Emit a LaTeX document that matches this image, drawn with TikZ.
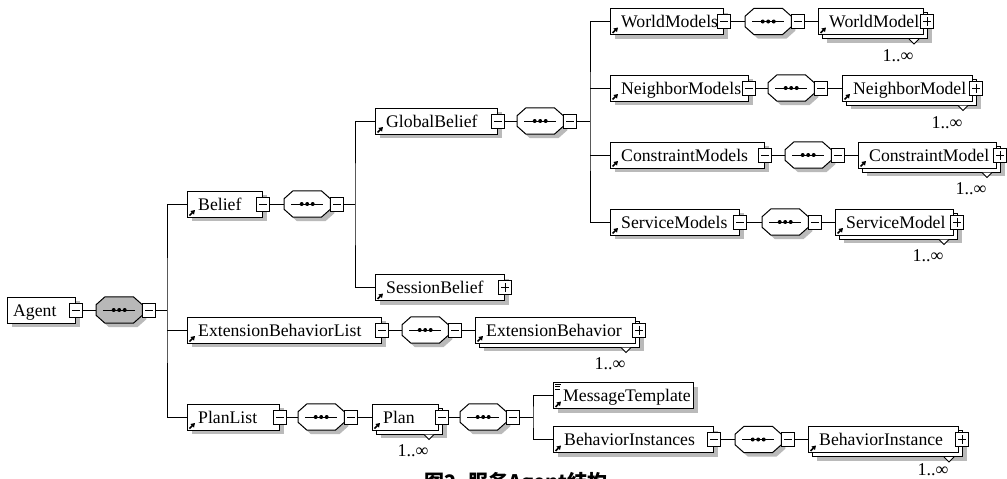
\documentclass[tikz,border=0pt]{standalone}
\usepackage{fontspec}
\setmainfont{Liberation Serif}
\newfontfamily\cjk{Noto Sans CJK SC}
\usetikzlibrary{shadows,arrows.meta}
\newcommand\elfont{\fontsize{17.7}{19}\selectfont}
\tikzset{
  shade4/.style={drop shadow={shadow xshift=4pt,shadow yshift=-4pt,fill=black!27,opacity=1}},
  boxline/.style={draw=black,line width=1pt},
  boxbase/.style={draw=black,fill=white,line width=1pt,inner sep=0pt,minimum height=26pt,rectangle},
  elembox/.style={boxbase,shade4},
  elemtext/.style={inner sep=0pt,anchor=base west,font=\elfont},
  pmbox/.style={draw=black,fill=white,line width=0.9pt,inner sep=0pt,minimum width=12.5pt,minimum height=14pt},
  minusb/.style={pmbox,path picture={\draw[line width=0.9pt] ([xshift=2.5pt]path picture bounding box.west) -- ([xshift=-2.5pt]path picture bounding box.east);}},
  plusb/.style={pmbox,path picture={\draw[line width=0.9pt] ([xshift=2.5pt]path picture bounding box.west) -- ([xshift=-2.5pt]path picture bounding box.east) ([yshift=-2.5pt]path picture bounding box.north) -- ([yshift=2.5pt]path picture bounding box.south);}},
  compo/.style={draw=black,line width=1pt,shade4},
  conn/.style={draw=black,line width=1pt},
  refarrow/.style={line width=1.6pt,-{Triangle[length=4pt,width=4.8pt]}},
  mult/.style={inner sep=0pt,font=\fontsize{18}{20}\selectfont},
}
% element: name, left, cy, width, text
\newcommand\XSDelem[5]{%
  \node[elembox,minimum width=#4pt,anchor=west] (#1) at (#2,#3) {};
  \node[elemtext] (#1t) at ([xshift=11pt,yshift=-6pt]#1.west) {#5};
}
% stacked element (1..unbounded): name, left, cy, width, text, label drop
\newcommand\XSDselem[6]{%
  \node[elembox,minimum width=#4pt,anchor=west] (#1b) at ({#2+4},{#3+4}) {};
  \draw[boxline,fill=white] ([xshift=-19pt]#1b.south east) -- ++(5,5) -- ++(5,-5);
  \node[boxbase,minimum width=#4pt,anchor=west] (#1) at (#2,#3) {};
  \node[elemtext] (#1t) at ([xshift=11pt,yshift=-6pt]#1.west) {#5};
  \node[mult] (#1n) at ([xshift=-26pt,yshift=-#6pt]#1.south east) {1..∞};
}
\newcommand\XSDref[1]{\draw[refarrow] ([xshift=2.5pt,yshift=2pt]#1.south west) -- ++(5.5,-5.5);}
% sequence compositor: name, left, cy, fill
\newcommand\XSDcompo[4]{%
  \node[inner sep=0pt,minimum width=46pt,minimum height=26pt,anchor=west] (#1) at (#2,#3) {};
  \draw[compo,fill=#4] ([xshift=9pt]#1.north west) -- ([xshift=-9pt]#1.north east) -- ([yshift=-8pt]#1.north east) -- ([yshift=8pt]#1.south east) -- ([xshift=-9pt]#1.south east) -- ([xshift=9pt]#1.south west) -- ([yshift=8pt]#1.south west) -- ([yshift=-8pt]#1.north west) -- cycle;
  \draw[boxline] ([xshift=7pt]#1.west) -- ([xshift=-7pt]#1.east);
  \fill ([xshift=-5.5pt]#1.center) circle (2pt) (#1.center) circle (2pt) ([xshift=5.5pt]#1.center) circle (2pt);
  \node[minusb,anchor=west] (#1m) at (#1.east) {};
}
\begin{document}
\begin{tikzpicture}[x=1pt,y=-1pt]
\useasboundingbox (0,0) rectangle (1007,479);
% ---- Agent
\node[elembox,minimum width=68pt,anchor=west] (agent) at (7,310) {};
\node[elemtext] (agentt) at ([xshift=6pt,yshift=-6pt]agent.west) {Agent};
\node[minusb] (agentpm) at (agent.east) {};
\XSDcompo{cz}{96}{310}{black!28}
\coordinate (bus0) at (167,310);
% ---- Belief
\XSDelem{belief}{187}{204}{75}{Belief}\XSDref{belief}
\node[minusb] (beliefpm) at (belief.east) {};
\XSDcompo{ca}{284}{204}{white}
\coordinate (bus1) at (355,204);
% ---- GlobalBelief
\XSDelem{globalb}{375}{121}{122}{GlobalBelief}\XSDref{globalb}
\node[minusb] (globalbpm) at (globalb.east) {};
\XSDcompo{cb}{517}{121}{white}
\coordinate (bus2) at (590,121);
% ---- WorldModels
\XSDelem{worldms}{610}{21.5}{113}{WorldModels}\XSDref{worldms}
\node[minusb] (worldmspm) at (worldms.east) {};
\XSDcompo{cc}{745}{21.5}{white}
\XSDselem{worldm}{818}{21.5}{105}{WorldModel}{21}\XSDref{worldm}
\node[plusb] (worldmpm) at ([xshift=3pt]worldm.east) {};
% ---- NeighborModels
\XSDelem{neighms}{610}{88}{138}{NeighborModels}\XSDref{neighms}
\node[minusb] (neighmspm) at (neighms.east) {};
\XSDcompo{cd}{768}{88}{white}
\XSDselem{neighm}{842}{88}{130}{NeighborModel}{21}\XSDref{neighm}
\node[plusb] (neighmpm) at ([xshift=3pt]neighm.east) {};
% ---- ConstraintModels
\XSDelem{constms}{610}{155}{154}{ConstraintModels}\XSDref{constms}
\node[minusb] (constmspm) at (constms.east) {};
\XSDcompo{ce}{785}{155}{white}
\XSDselem{constm}{858}{155}{138}{ConstraintModel}{20}\XSDref{constm}
\node[plusb] (constmpm) at ([xshift=3pt]constm.east) {};
% ---- ServiceModels
\XSDelem{servms}{610}{222}{129}{ServiceModels}\XSDref{servms}
\node[minusb] (servmspm) at (servms.east) {};
\XSDcompo{cf}{762}{222}{white}
\XSDselem{servm}{835}{222}{118}{ServiceModel}{20}\XSDref{servm}
\node[plusb] (servmpm) at ([xshift=3pt]servm.east) {};
% ---- SessionBelief
\XSDelem{sessionb}{375}{287.5}{129}{SessionBelief}\XSDref{sessionb}
\node[plusb] (sessionbpm) at (sessionb.east) {};
% ---- ExtensionBehaviorList
\XSDelem{extbl}{187}{330}{194}{ExtensionBehaviorList}\XSDref{extbl}
\node[minusb] (extblpm) at (extbl.east) {};
\XSDcompo{cg}{402}{330}{white}
\XSDselem{extb}{475}{330}{160}{ExtensionBehavior}{20}\XSDref{extb}
\node[plusb] (extbpm) at ([xshift=3pt]extb.east) {};
% ---- PlanList
\XSDelem{planl}{187}{417}{92}{PlanList}\XSDref{planl}
\node[minusb] (planlpm) at (planl.east) {};
\XSDcompo{ch}{298}{417}{white}
\XSDselem{plan}{372}{417}{66}{Plan}{20}\XSDref{plan}
\node[minusb] (planpm) at ([xshift=3pt]plan.east) {};
\XSDcompo{ci}{460}{417}{white}
\coordinate (bus3) at (533,417);
% ---- MessageTemplate
\node[elembox,minimum width=140pt,anchor=west] (msgt) at (553,395.5) {};
\node[elemtext] (msgtt) at ([xshift=10pt,yshift=-6pt]msgt.west) {MessageTemplate};
\XSDref{msgt}
\draw[line width=0.7pt] ([xshift=2pt,yshift=-2.5pt]msgt.north west) -- ++(6,0)
  ([xshift=2pt,yshift=-4.7pt]msgt.north west) -- ++(5,0)
  ([xshift=2pt,yshift=-6.9pt]msgt.north west) -- ++(5,0);
% ---- BehaviorInstances
\XSDelem{behis}{553}{439.5}{160}{BehaviorInstances}\XSDref{behis}
\node[minusb] (behispm) at (behis.east) {};
\XSDcompo{cj}{735}{439.5}{white}
\XSDselem{behi}{808}{439.5}{150}{BehaviorInstance}{17}\XSDref{behi}
\node[plusb] (behipm) at ([xshift=3pt]behi.east) {};
% ---- connectors
\draw[conn] (agentpm.east) -- (cz.west);
\draw[conn] (czm.east) -- (bus0);
\draw[conn] (belief.west) -| (bus0) |- (planl.west);
\draw[conn] (bus0 |- extbl.west) -- (extbl.west);
\draw[conn] (beliefpm.east) -- (ca.west);
\draw[conn] (cam.east) -- (bus1);
\draw[conn] (globalb.west) -| (bus1) |- (sessionb.west);
\draw[conn] (globalbpm.east) -- (cb.west);
\draw[conn] (cbm.east) -- (bus2);
\draw[conn] (worldms.west) -| (bus2) |- (servms.west);
\draw[conn] (bus2 |- neighms.west) -- (neighms.west);
\draw[conn] (bus2 |- constms.west) -- (constms.west);
\draw[conn] (worldmspm.east) -- (cc.west);
\draw[conn] (ccm.east) -- (worldm.west);
\draw[conn] (neighmspm.east) -- (cd.west);
\draw[conn] (cdm.east) -- (neighm.west);
\draw[conn] (constmspm.east) -- (ce.west);
\draw[conn] (cem.east) -- (constm.west);
\draw[conn] (servmspm.east) -- (cf.west);
\draw[conn] (cfm.east) -- (servm.west);
\draw[conn] (extblpm.east) -- (cg.west);
\draw[conn] (cgm.east) -- (extb.west);
\draw[conn] (planlpm.east) -- (ch.west);
\draw[conn] (chm.east) -- (plan.west);
\draw[conn] (planpm.east) -- (ci.west);
\draw[conn] (cim.east) -- (bus3);
\draw[conn] (msgt.west) -| (bus3) |- (behis.west);
\draw[conn] (behispm.east) -- (cj.west);
\draw[conn] (cjm.east) -- (behi.west);
% ---- caption (cut by the page edge, as in the reference)
\node[font=\cjk\bfseries\fontsize{20}{22}\selectfont,anchor=north,inner sep=0pt] (cap) at (516,472.5) {图2\hspace{0.6em}服务Agent结构};
\end{tikzpicture}
\end{document}
